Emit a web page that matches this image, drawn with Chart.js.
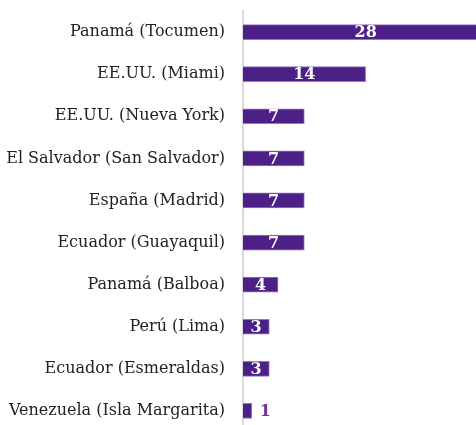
<!DOCTYPE html>
<html>
<head>
<meta charset="utf-8">
<script src="https://cdn.jsdelivr.net/npm/chart.js@4/dist/chart.umd.min.js"></script>
<style>
  html, body { margin: 0; padding: 0; background: #fff; overflow: hidden; }
  canvas { display: block; }
</style>
</head>
<body>
<canvas id="chart" width="476" height="432"></canvas>
<script>
const categories = [
  'Panamá (Tocumen)',
  'EE.UU. (Miami)',
  'EE.UU. (Nueva York)',
  'El Salvador (San Salvador)',
  'España (Madrid)',
  'Ecuador (Guayaquil)',
  'Panamá (Balboa)',
  'Perú (Lima)',
  'Ecuador (Esmeraldas)',
  'Venezuela (Isla Margarita)'
];
const values = [28, 14, 7, 7, 7, 7, 4, 3, 3, 1];

const barColor = '#4c2087';
const serif = '"DejaVu Serif", "Liberation Serif", serif';

// etiquetas de valor dentro de la barra (o fuera si es muy corta)
const valueLabels = {
  id: 'valueLabels',
  afterDatasetsDraw(chart) {
    const c = chart.ctx;
    const meta = chart.getDatasetMeta(0);
    c.save();
    c.font = 'bold 16px ' + serif;
    c.textBaseline = 'middle';
    meta.data.forEach((bar, i) => {
      const v = values[i];
      const text = String(v);
      const w = c.measureText(text).width;
      const len = bar.x - bar.base;
      if (len > w + 4) {
        c.fillStyle = '#ffffff';
        c.textAlign = 'center';
        c.fillText(text, (bar.x + bar.base) / 2, bar.y + 1);
      } else {
        c.fillStyle = '#7030a0';
        c.textAlign = 'left';
        c.fillText(text, bar.x + 8, bar.y + 1);
      }
    });
    c.restore();
  }
};

new Chart(document.getElementById('chart'), {
  type: 'bar',
  data: {
    labels: categories,
    datasets: [{
      data: values,
      backgroundColor: barColor,
      borderColor: '#9478c4',
      borderWidth: 1,
      barThickness: 15
    }]
  },
  options: {
    indexAxis: 'y',
    responsive: false,
    animation: false,
    layout: { padding: { top: 11, right: 0, bottom: 0, left: 0 } },
    plugins: {
      legend: { display: false },
      tooltip: { enabled: false }
    },
    scales: {
      x: {
        display: false,
        min: 0,
        max: 26.6
      },
      y: {
        afterFit(scale) {
          scale.width = 243;
          scale.paddingTop = 0;
          scale.paddingBottom = 0;
        },
        grid: { display: false, drawTicks: true, tickLength: 18 },
        border: { display: true, color: '#d9d9d9', width: 2 },
        ticks: {
          padding: 0,
          color: '#222222',
          font: { family: serif, size: 16 }
        }
      }
    }
  },
  plugins: [valueLabels]
});
</script>
</body>
</html>
